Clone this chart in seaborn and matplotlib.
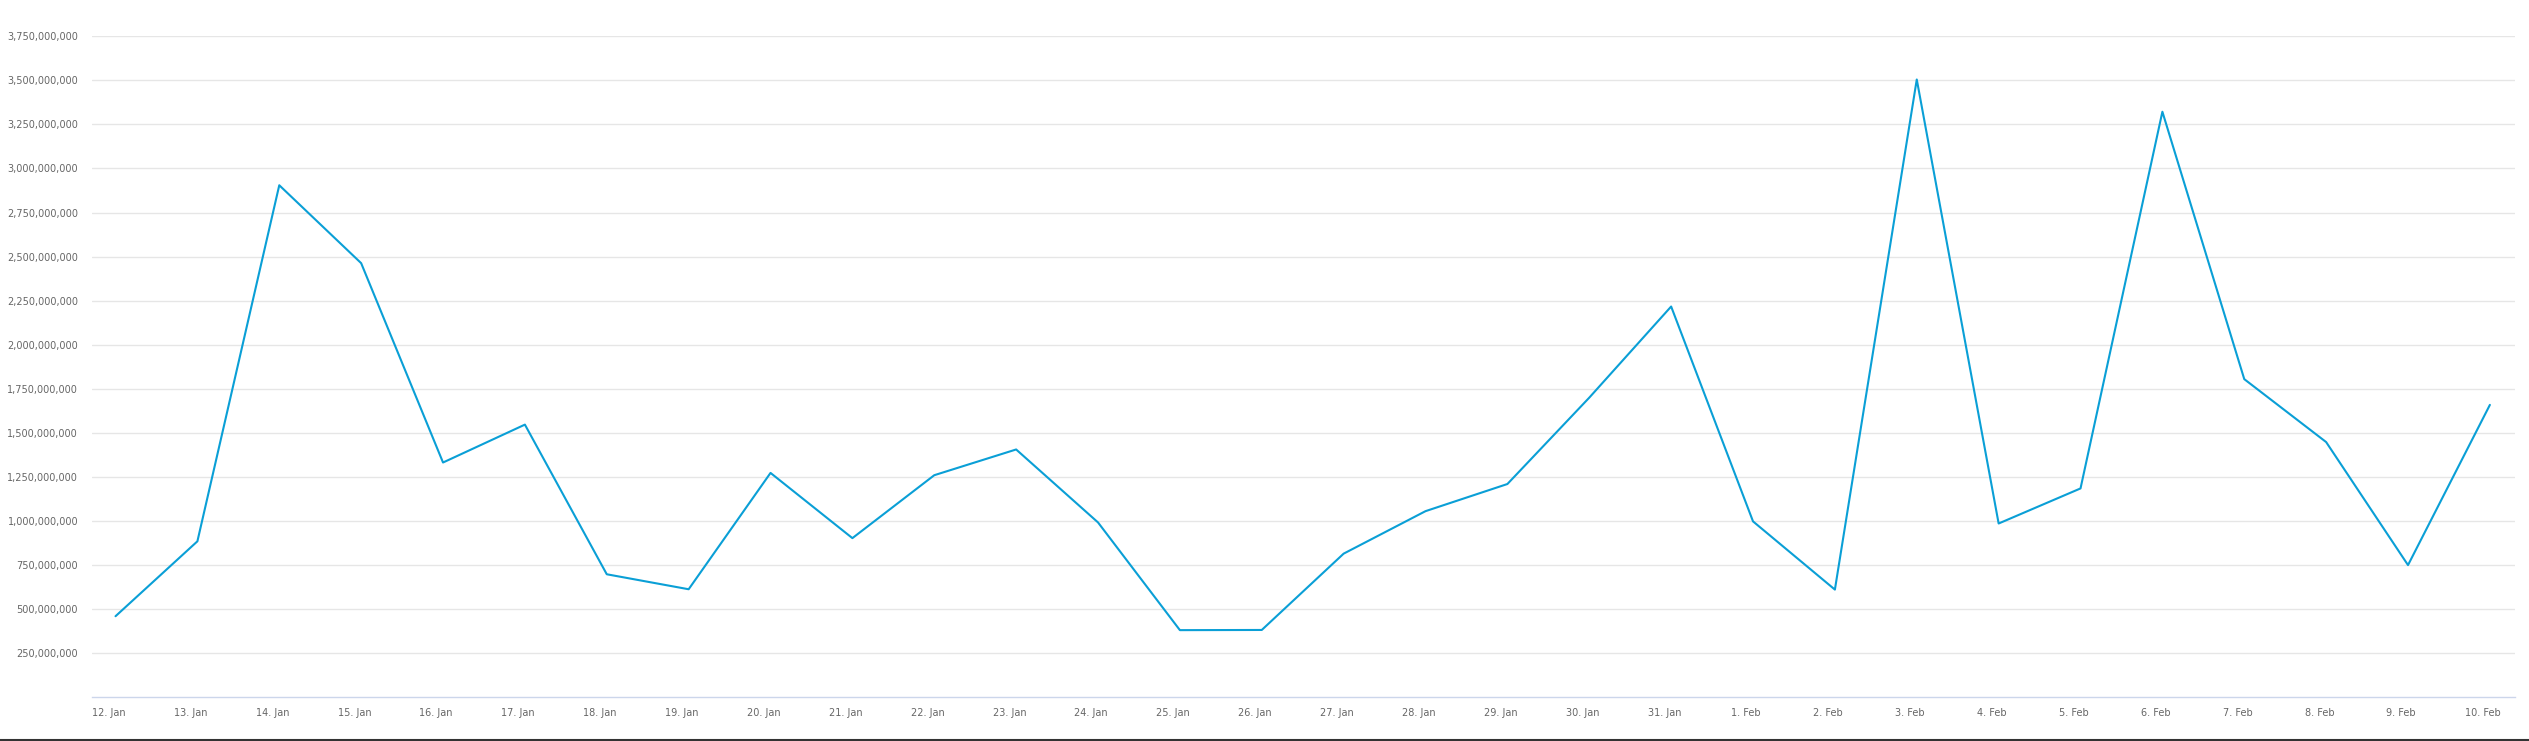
import pandas as pd
import matplotlib.pyplot as plt
import matplotlib.dates as mdates
import matplotlib.ticker as mticker
import seaborn as sns

# Daily values, 12 Jan - 10 Feb
dates = pd.date_range("2021-01-12", "2021-02-10", freq="D")
values = [
    460e6, 885e6, 2905e6, 2463e6, 1332e6, 1547e6, 698e6, 613e6, 1273e6, 903e6,
    1260e6, 1406e6, 992e6, 381e6, 382e6, 815e6, 1056e6, 1210e6, 1700e6, 2217e6,
    998e6, 611e6, 3505e6, 986e6, 1185e6, 3322e6, 1805e6, 1448e6, 750e6, 1659e6,
]
y_ticks = [250e6 * i for i in range(1, 16)]

df = pd.DataFrame({"date": dates + pd.Timedelta(hours=2), "value": values})

sns.set_style("white")
plt.rcParams["font.family"] = ["DejaVu Sans"]

fig = plt.figure(figsize=(25.29, 7.41), dpi=100)
ax = fig.add_axes([92 / 2529, 1 - 697.3 / 741, (2515 - 92) / 2529, (697.3 - 36.3) / 741])

sns.lineplot(data=df, x="date", y="value", ax=ax, color="#0a9fd6", linewidth=1.5)

# axes ranges
day = pd.Timedelta(days=1)
ax.set_xlim(dates[0] - 0.204 * day, dates[0] + 29.39 * day)
ax.set_ylim(0, 3.75e9)

ax.set_yticks(y_ticks)
ax.yaxis.set_major_formatter(mticker.FuncFormatter(lambda v, p: f"{v:,.0f}"))
ax.xaxis.set_major_locator(mdates.DayLocator())
ax.xaxis.set_major_formatter(mdates.DateFormatter("%-d. %b"))

ax.grid(axis="y", color="#e6e6e6", linewidth=1)
ax.grid(axis="x", visible=False)
for s in ["top", "right", "left"]:
    ax.spines[s].set_visible(False)
ax.spines["bottom"].set_color("#ccd6eb")
ax.spines["bottom"].set_linewidth(1)

ax.tick_params(axis="y", length=0, pad=10, labelsize=7, labelcolor="#666666")
ax.tick_params(axis="x", length=6, width=1, color="#ccd6eb", pad=2,
               labelsize=7, labelcolor="#666666")
ax.set_xlabel("")
ax.set_ylabel("")

# axis title, mostly cut off at the left edge
fig.text(-0.0035, 1 - 365 / 741, "Values", rotation=90, ha="center", va="center",
         fontsize=8, color="#666666")

# dark frame line at the bottom
fig.add_artist(plt.Line2D([0, 1], [1.5 / 741, 1.5 / 741], color="#333333", linewidth=1.5))

plt.savefig("out.png", dpi=100)
